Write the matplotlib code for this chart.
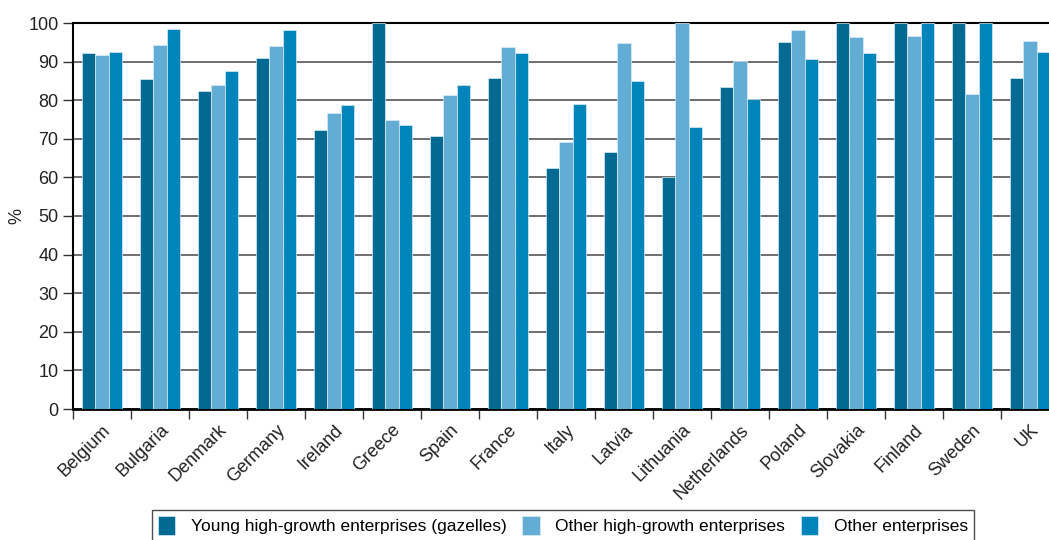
import numpy as np
import matplotlib
matplotlib.use("Agg")
import matplotlib.pyplot as plt

# Data
countries = ["Belgium", "Bulgaria", "Denmark", "Germany", "Ireland", "Greece", "Spain",
             "France", "Italy", "Latvia", "Lithuania", "Netherlands", "Poland",
             "Slovakia", "Finland", "Sweden", "UK"]
gazelles = [92.3, 85.6, 82.5, 90.9, 72.4, 100, 70.8, 85.8, 62.4, 66.7, 60.0, 83.3, 95.0,
            100, 100, 100, 85.8]
other_hg = [91.7, 94.3, 83.9, 94.0, 76.6, 75.0, 81.4, 93.8, 69.3, 94.8, 100, 90.2, 98.2,
            96.4, 96.7, 81.5, 95.3]
other_ent = [92.6, 98.5, 87.6, 98.3, 78.7, 73.5, 84.0, 92.2, 78.9, 85.1, 73.1, 80.2, 90.6,
             92.2, 100, 100, 92.6]
series_names = ["Young high-growth enterprises (gazelles)",
                "Other high-growth enterprises", "Other enterprises"]
colors = ["#006a93", "#63add4", "#0085bb"]

plt.rcParams['font.family'] = ['Liberation Sans', 'DejaVu Sans']

fig = plt.figure(figsize=(10.49, 5.40), dpi=100)
ax = fig.add_axes([73/1049, 1 - 409/540, 986/1049, 386/540])

x = np.arange(len(countries))
w = 0.225
for i, (vals, name, c) in enumerate(zip([gazelles, other_hg, other_ent], series_names, colors)):
    ax.bar(x + (i - 1) * w, vals, width=w, color=c, edgecolor="#d8ecf5",
           linewidth=0.5, label=name, zorder=3)

ax.set_xlim(-0.5, len(countries) - 0.5)
ax.set_ylim(0, 100)
ax.set_yticks(range(0, 101, 10))
ax.yaxis.grid(True, color="#555555", linewidth=1.2, zorder=0)
ax.set_axisbelow(True)

ax.set_xticks(x)
ax.set_xticklabels(countries, rotation=45, ha="right", rotation_mode="anchor",
                   fontsize=13, color="#222222")
ax.set_xticks(np.arange(-0.5, len(countries)), minor=True)
ax.tick_params(axis="x", which="major", length=0, pad=9)
ax.tick_params(axis="x", which="minor", length=7, width=1, color="#333333")
ax.tick_params(axis="y", length=7, width=1, color="#333333", labelsize=13,
               labelcolor="#222222")

for s in ["left", "bottom", "top"]:
    ax.spines[s].set_color("black")
ax.spines["bottom"].set_linewidth(2)
ax.spines["left"].set_linewidth(1.5)
ax.spines["top"].set_linewidth(1.5)
ax.spines["right"].set_visible(False)

ax.set_ylabel("%", fontsize=13, color="#222222", labelpad=2)

leg = fig.legend(loc="upper center", bbox_to_anchor=(563/1049, 1 - 510/540), ncol=3,
                 fontsize=12.5, frameon=True, fancybox=False, edgecolor="#222222",
                 handlelength=1.0, handleheight=1.3, handletextpad=0.9,
                 columnspacing=0.9, borderpad=0.35, borderaxespad=0)
leg.get_frame().set_linewidth(1)

fig.savefig("out.png", dpi=100)
